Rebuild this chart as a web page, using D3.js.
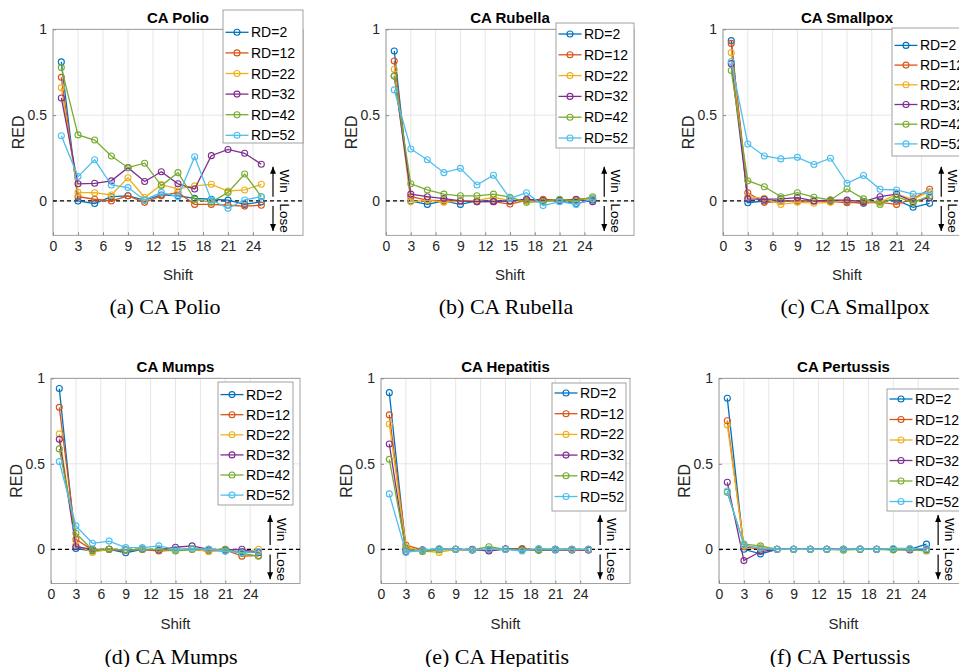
<!DOCTYPE html>
<html><head><meta charset="utf-8">
<script src="https://cdn.jsdelivr.net/npm/d3@7/dist/d3.min.js"></script>
<style>body{margin:0;background:#fff}svg{display:block}</style>
</head><body>
<svg id="c" width="959" height="667"></svg>
<script>
// ---------- data ----------
const shifts = [1,3,5,7,9,11,13,15,17,19,21,23,25];
const rdLabels = ["RD=2","RD=12","RD=22","RD=32","RD=42","RD=52"];
const xTicks = [0,3,6,9,12,15,18,21,24];
const yTicks = [0,0.5,1];
const titles = ["CA Polio","CA Rubella","CA Smallpox","CA Mumps","CA Hepatitis","CA Pertussis"];
const captions = ["(a) CA Polio","(b) CA Rubella","(c) CA Smallpox","(d) CA Mumps","(e) CA Hepatitis","(f) CA Pertussis"];

const polio = [
 [0.81, 0.00, -0.015, 0.025, 0.03, 0.005, 0.035, 0.03, 0.015, 0.01, 0.005, -0.02, -0.005],
 [0.72, 0.025, 0.01, 0.0, 0.03, -0.008, 0.03, 0.05, -0.02, -0.02, -0.025, -0.03, -0.025],
 [0.66, 0.05, 0.048, 0.035, 0.135, 0.02, 0.095, 0.07, 0.088, 0.097, 0.058, 0.064, 0.097],
 [0.60, 0.10, 0.103, 0.117, 0.194, 0.113, 0.17, 0.10, 0.07, 0.264, 0.30, 0.278, 0.214],
 [0.777, 0.385, 0.355, 0.262, 0.194, 0.22, 0.09, 0.165, 0.01, -0.008, 0.05, 0.157, 0.025],
 [0.38, 0.142, 0.24, 0.093, 0.078, 0.006, 0.05, 0.025, 0.258, 0.005, -0.043, 0.006, 0.025]
];
const rubella = [
 [0.874, 0, -0.02, 0, -0.02, 0, 0, 0, 0.005, 0, 0, -0.015, 0.005],
 [0.815, 0.025, 0.005, 0, 0, -0.004, -0.004, -0.018, 0.003, 0.01, 0.003, 0.01, 0.015],
 [0.767, -0.005, 0.005, -0.008, 0, 0.003, 0.02, 0.003, 0, -0.004, 0.003, 0, 0.015],
 [0.728, 0.04, 0.025, 0.014, 0, -0.004, -0.004, 0, 0.01, 0.003, 0.003, 0.008, -0.004],
 [0.728, 0.10, 0.064, 0.04, 0.03, 0.03, 0.04, 0.022, -0.008, -0.004, 0.01, 0, 0.025],
 [0.647, 0.303, 0.24, 0.165, 0.19, 0.093, 0.15, 0.015, 0.048, -0.027, -0.004, -0.02, 0.012]
];
const smallpox = [
 [0.934, -0.01, 0, 0, 0, 0, 0, -0.004, -0.014, 0, 0.005, -0.037, -0.014],
 [0.918, 0.048, -0.008, -0.004, 0, 0, -0.004, -0.01, -0.01, -0.008, -0.02, 0.012, 0.068],
 [0.864, 0.025, 0.015, -0.02, -0.008, -0.013, -0.008, 0, -0.004, -0.008, 0.04, 0.01, 0.055],
 [0.80, 0.012, 0.01, 0.012, 0.02, 0, 0.005, 0.005, -0.004, 0.025, 0.04, -0.004, 0.02],
 [0.76, 0.118, 0.083, 0.025, 0.048, 0.022, 0.006, 0.07, 0.012, -0.02, 0.025, -0.01, 0.03],
 [0.812, 0.332, 0.262, 0.245, 0.254, 0.212, 0.249, 0.103, 0.148, 0.068, 0.064, 0.04, 0.048]
];
const mumps = [
 [0.94, 0.005, -0.01, 0, -0.02, 0, -0.004, -0.004, 0, -0.004, -0.01, -0.014, -0.018],
 [0.83, 0.058, -0.004, 0, -0.004, 0, -0.01, -0.004, 0, -0.01, -0.004, -0.04, -0.037],
 [0.675, 0.025, -0.018, 0, -0.004, 0, -0.004, -0.004, 0.002, -0.014, 0, -0.024, 0],
 [0.643, 0.015, 0, 0, -0.004, 0, -0.004, 0.012, 0.02, 0, -0.004, 0, -0.02],
 [0.587, 0.094, -0.004, 0, -0.004, 0, 0, -0.01, 0, 0, 0, -0.024, -0.04],
 [0.513, 0.137, 0.035, 0.048, 0.01, 0.01, 0.02, 0, 0.005, 0, -0.01, -0.02, -0.014]
];
const hepatitis = [
 [0.916, 0, -0.004, 0, 0, -0.004, -0.004, 0, -0.004, -0.004, -0.004, -0.004, 0],
 [0.786, 0.025, -0.004, 0, 0, -0.004, 0, 0, 0.005, -0.004, 0, -0.004, -0.004],
 [0.733, 0.015, -0.01, -0.018, 0, -0.004, 0, 0, 0, 0, 0, 0, 0],
 [0.616, -0.013, -0.004, 0, 0, 0, -0.01, 0.003, 0, -0.004, 0, 0, -0.004],
 [0.526, 0.003, -0.013, -0.004, 0, -0.004, 0.015, 0, -0.004, -0.004, 0, 0, 0],
 [0.324, -0.018, -0.004, 0.003, 0, -0.004, 0, 0, -0.01, 0.005, 0, 0, 0]
];
const pertussis = [
 [0.883, 0, -0.027, 0, 0, 0, 0, 0, 0, 0, 0, 0, 0.03],
 [0.752, 0.015, 0, 0, 0, 0, 0, 0, 0, 0, 0, 0, 0],
 [0.727, 0.02, 0.01, 0, 0, 0, 0, 0, 0, 0, 0, 0, 0],
 [0.392, -0.066, -0.013, 0, 0, 0, 0, 0, 0, 0, 0, -0.004, 0],
 [0.333, 0.03, 0.02, 0, 0, 0, 0, -0.005, 0, 0, -0.004, 0, -0.01],
 [0.341, 0.025, 0.005, 0, 0, 0, 0, 0, 0.003, 0, 0.005, 0.005, 0.003]
];
const panelData = [polio, rubella, smallpox, mumps, hepatitis, pertussis];

// ---------- styling / layout ----------
const colors = ["#0072BD","#D95319","#EDB120","#7E2F8E","#77AC30","#4DBEEE"];
const SANS = "Liberation Sans, Arial, Helvetica, sans-serif";
const SERIF = "Liberation Serif, Times New Roman, serif";
const layouts = [
 {x0:53,  x1:303, y0:29.3,  y1:235.3, ty:23,  leg:{x:223, y:10,  w:80, h:133, first:22.3, step:20.6}, cap:{x:165, y:314}},
 {x0:386, x1:634, y0:29.3,  y1:235.3, ty:23,  leg:{x:556, y:23,  w:78, h:125, first:11,   step:20.8}, cap:{x:506, y:314}},
 {x0:723, x1:971, y0:29.3,  y1:235.3, ty:23,  leg:{x:892, y:28,  w:80, h:128, first:17.4, step:19.7}, cap:{x:855, y:314}},
 {x0:51,  x1:300, y0:378.3, y1:583.5, ty:372, leg:{x:218, y:382, w:75, h:123, first:12.6, step:20.1}, cap:{x:171, y:664}},
 {x0:381, x1:630, y0:378.3, y1:583.5, ty:372, leg:{x:552, y:383, w:74, h:128, first:10,   step:20.7}, cap:{x:497, y:664}},
 {x0:719, x1:968, y0:378.3, y1:583.5, ty:372, leg:{x:887, y:389, w:80, h:122, first:10,   step:20.5}, cap:{x:840, y:664}}
];

const svg = d3.select("#c");

panelData.forEach((series, pi) => {
  const L = layouts[pi];
  const x = d3.scaleLinear().domain([0, 30]).range([L.x0, L.x1]);
  const y = d3.scaleLinear().domain([-0.2, 1]).range([L.y1, L.y0]);
  const g = svg.append("g");

  // grid
  g.selectAll(".vg").data(xTicks).enter().append("line")
    .attr("x1", d => x(d)).attr("x2", d => x(d)).attr("y1", y(-0.2)).attr("y2", y(1))
    .attr("stroke", "#e6e6e6").attr("stroke-width", 1);
  g.selectAll(".hg").data(yTicks).enter().append("line")
    .attr("x1", x(0)).attr("x2", x(30)).attr("y1", d => y(d)).attr("y2", d => y(d))
    .attr("stroke", "#e6e6e6").attr("stroke-width", 1);

  // box
  g.append("rect").attr("x", x(0)).attr("y", y(1)).attr("width", x(30) - x(0)).attr("height", y(-0.2) - y(1))
    .attr("fill", "none").attr("stroke", "#8a8a8a").attr("stroke-width", 0.8);

  // axes
  const xa = g.append("g").attr("transform", `translate(0,${y(-0.2)})`)
    .call(d3.axisBottom(x).tickValues(xTicks).tickSizeInner(-3).tickSizeOuter(0).tickPadding(6));
  const ya = g.append("g").attr("transform", `translate(${x(0)},0)`)
    .call(d3.axisLeft(y).tickValues(yTicks).tickSizeInner(-3).tickSizeOuter(0).tickPadding(6)
      .tickFormat(d => d === 0.5 ? "0.5" : d3.format("d")(d)));
  [xa, ya].forEach(a => {
    a.select(".domain").remove();
    a.selectAll(".tick line").attr("stroke", "#8a8a8a");
    a.selectAll(".tick text").attr("fill", "#262626").style("font-family", SANS).style("font-size", "14px");
  });

  // zero dashed line
  g.append("line").attr("x1", x(0)).attr("x2", x(30)).attr("y1", y(0)).attr("y2", y(0))
    .attr("stroke", "#000").attr("stroke-width", 1.3).attr("stroke-dasharray", "4,3");

  // series
  const line = d3.line().x((d, i) => x(shifts[i])).y(d => y(d));
  series.forEach((vals, si) => {
    g.append("path").datum(vals).attr("d", line)
      .attr("fill", "none").attr("stroke", colors[si]).attr("stroke-width", 1.3);
    g.selectAll(null).data(vals).enter().append("circle")
      .attr("cx", (d, i) => x(shifts[i])).attr("cy", d => y(d)).attr("r", 3)
      .attr("fill", "none").attr("stroke", colors[si]).attr("stroke-width", 1.1);
  });

  // Win / Lose annotation
  const ax = x(26.4);
  const arrow = (ya1, ya2) => {
    g.append("line").attr("x1", ax).attr("x2", ax).attr("y1", y(ya1)).attr("y2", y(ya2))
      .attr("stroke", "#000").attr("stroke-width", 1.2);
    const tip = y(ya2), dir = ya2 > ya1 ? 1 : -1;
    g.append("path").attr("d", `M${ax},${tip} L${ax - 3},${tip + dir * 7} L${ax + 3},${tip + dir * 7} Z`)
      .attr("fill", "#000");
  };
  arrow(0.025, 0.2);
  arrow(-0.03, -0.175);
  g.append("text").attr("transform", `translate(${x(27.75)},${y(0.115)}) rotate(90)`)
    .attr("text-anchor", "middle").attr("dominant-baseline", "central")
    .style("font-family", SANS).style("font-size", "13.5px").attr("fill", "#000").text("Win");
  g.append("text").attr("transform", `translate(${x(27.75)},${y(-0.1)}) rotate(90)`)
    .attr("text-anchor", "middle").attr("dominant-baseline", "central")
    .style("font-family", SANS).style("font-size", "13.5px").attr("fill", "#000").text("Lose");

  // labels
  g.append("text").attr("x", (x(0) + x(30)) / 2).attr("y", L.ty).attr("text-anchor", "middle")
    .style("font-family", SANS).style("font-size", "15px").style("font-weight", "bold").attr("fill", "#000")
    .text(titles[pi]);
  g.append("text").attr("x", x(15)).attr("y", y(-0.2) + 45).attr("text-anchor", "middle")
    .style("font-family", SANS).style("font-size", "15px").attr("fill", "#262626").text("Shift");
  g.append("text").attr("transform", `translate(${x(0) - 35},${y(0.4)}) rotate(-90)`)
    .attr("text-anchor", "middle").attr("dominant-baseline", "central")
    .style("font-family", SANS).style("font-size", "16px").attr("fill", "#262626").text("RED");

  // legend
  const lg = g.append("g");
  lg.append("rect").attr("x", L.leg.x).attr("y", L.leg.y).attr("width", L.leg.w).attr("height", L.leg.h)
    .attr("fill", "#fff").attr("stroke", "#8a8a8a").attr("stroke-width", 0.8);
  rdLabels.forEach((lab, si) => {
    const ly = L.leg.y + L.leg.first + si * L.leg.step;
    lg.append("line").attr("x1", L.leg.x + 2.5).attr("x2", L.leg.x + 25.5).attr("y1", ly).attr("y2", ly)
      .attr("stroke", colors[si]).attr("stroke-width", 1.3);
    lg.append("circle").attr("cx", L.leg.x + 14).attr("cy", ly).attr("r", 3)
      .attr("fill", "none").attr("stroke", colors[si]).attr("stroke-width", 1.1);
    lg.append("text").attr("x", L.leg.x + 28).attr("y", ly).attr("dominant-baseline", "central")
      .style("font-family", SANS).style("font-size", "14px").attr("fill", "#000").text(lab);
  });

  // caption
  svg.append("text").attr("x", L.cap.x).attr("y", L.cap.y).attr("text-anchor", "middle")
    .style("font-family", SERIF).style("font-size", "22px").attr("fill", "#000").text(captions[pi]);
});
</script>
</body></html>
